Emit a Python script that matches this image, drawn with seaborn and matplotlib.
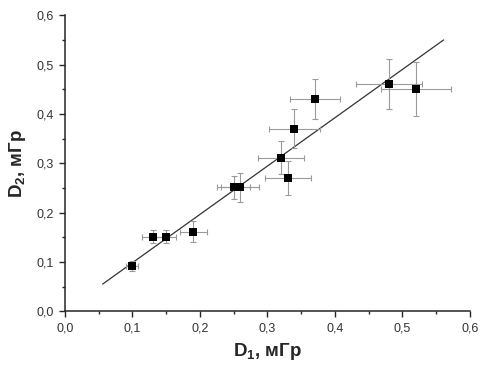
import numpy as np
import pandas as pd
import matplotlib
matplotlib.use("Agg")
import matplotlib.pyplot as plt
import seaborn as sns
from matplotlib.ticker import MultipleLocator, FuncFormatter

# --- Data ---
d1 = [0.10, 0.13, 0.15, 0.19, 0.25, 0.26, 0.32, 0.33, 0.34, 0.37, 0.48, 0.52]
d2 = [0.092, 0.151, 0.151, 0.161, 0.251, 0.251, 0.311, 0.270, 0.370, 0.430, 0.460, 0.450]
d1_err = [0.009, 0.015, 0.015, 0.020, 0.024, 0.028, 0.034, 0.034, 0.038, 0.037, 0.049, 0.052]
d2_err = [0.010, 0.013, 0.013, 0.021, 0.024, 0.029, 0.033, 0.034, 0.040, 0.040, 0.051, 0.055]

# fitted line drawn in the reference
fit_slope = 0.98
fit_intercept = 0.0
fit_x = [0.056, 0.561]

df = pd.DataFrame({"D1": d1, "D2": d2})
fit_df = pd.DataFrame({"x": fit_x})
fit_df["y"] = fit_slope * fit_df["x"] + fit_intercept

# --- Styling ---
sns.set_style("ticks")
plt.rcParams["font.family"] = ["Liberation Sans", "DejaVu Sans"]
plt.rcParams["mathtext.default"] = "regular"

fig = plt.figure(figsize=(4.8, 3.7), dpi=100)
ax = fig.add_axes([0.135, 0.159, 0.844, 0.800])

sns.lineplot(data=fit_df, x="x", y="y", ax=ax, color="#333333", linewidth=0.9)

ax.errorbar(d1, d2, xerr=d1_err, yerr=d2_err, fmt="none",
            ecolor="#9a9a9a", elinewidth=0.8, capsize=2.0, capthick=0.8, zorder=2)

sns.scatterplot(data=df, x="D1", y="D2", ax=ax, marker="s", s=30,
                color="black", edgecolor="black", linewidth=0, zorder=3)

ax.set_xlim(0, 0.6)
ax.set_ylim(0, 0.6)
ax.xaxis.set_major_locator(MultipleLocator(0.1))
ax.yaxis.set_major_locator(MultipleLocator(0.1))
ax.xaxis.set_minor_locator(MultipleLocator(0.05))
ax.yaxis.set_minor_locator(MultipleLocator(0.05))

comma = FuncFormatter(lambda v, pos: f"{v:.1f}".replace(".", ","))
ax.xaxis.set_major_formatter(comma)
ax.yaxis.set_major_formatter(comma)

ax.tick_params(which="major", direction="out", length=4, width=1,
               labelsize=9, labelcolor="#333333", pad=4)
ax.tick_params(which="minor", direction="out", length=2.5, width=1)

for side in ["left", "bottom"]:
    ax.spines[side].set_linewidth(1.1)
sns.despine(ax=ax)

ax.set_xlabel("D$_1$, мГр", fontsize=13.5, fontweight="bold", labelpad=5)
ax.set_ylabel("D$_2$, мГр", fontsize=13.5, fontweight="bold", labelpad=6)

fig.savefig("out.png", dpi=100)
plt.close(fig)
